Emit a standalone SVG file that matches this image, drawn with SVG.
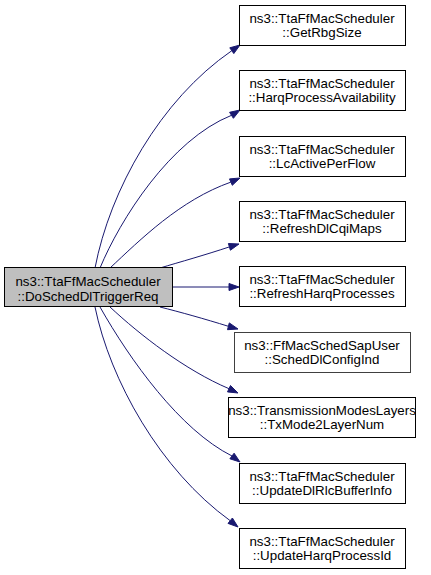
<svg xmlns="http://www.w3.org/2000/svg" width="431" height="575" viewBox="0 0 431 575">
<style>
.n rect{fill:#fff;stroke:#000;stroke-width:1}
.g rect{fill:#bfbfbf}
.x rect{stroke:#404040}
text{font-family:"Liberation Sans",Arial,sans-serif;font-size:13.33px;text-anchor:middle;fill:#000}
.e path{fill:none;stroke:#191970;stroke-width:1}
.e polygon{fill:#191970;stroke:#191970;stroke-width:1}
</style>
<rect width="431" height="575" fill="#fff"/>
<g class="e" id="edges">
<path d="M95,268 C110,190 160,100 231.8,50.7"/><polygon points="240,45 233.8,53.6 229.8,47.8"/>
<path d="M100,268 C120,220 170,140 231.5,115.3"/><polygon points="240,110 233.4,118.3 229.6,112.3"/>
<path d="M110,268 C140,240 180,200 230.9,182.1"/><polygon points="240,178 232.3,185.3 229.5,178.9"/>
<path d="M160,268 C180,262 205,255 229.4,246.9"/><polygon points="239,244 230.4,250.2 228.4,243.5"/>
<path d="M172,287 L229,287"/><polygon points="239,287 229,283.5 229,290.5"/>
<path d="M160,307 C180,312 205,319 228.4,326.3"/><polygon points="238,329 227.5,329.7 229.3,322.9"/>
<path d="M110,307 C140,335 185,370 229,388.7"/><polygon points="238,393 227.5,391.9 230.5,385.5"/>
<path d="M100,307 C130,360 180,430 232,456"/><polygon points="240,462 229.9,458.8 234.1,453.2"/>
<path d="M95,307 C110,380 160,470 230.2,520.7"/><polygon points="238,527 228,523.4 232.4,518"/>
</g>
<g class="n g" id="node0"><rect x="4.5" y="267.5" width="168" height="39"/><text x="88" y="286">ns3::TtaFfMacScheduler</text><text x="88" y="301">::DoSchedDlTriggerReq</text></g>
<g class="n" id="node1"><rect x="239.5" y="5.5" width="166" height="40"/><text x="322" y="22.5">ns3::TtaFfMacScheduler</text><text x="322" y="37">::GetRbgSize</text></g>
<g class="n" id="node2"><rect x="239.5" y="70.5" width="166" height="40"/><text x="322" y="87.5">ns3::TtaFfMacScheduler</text><text x="322" y="102">::HarqProcessAvailability</text></g>
<g class="n" id="node3"><rect x="239.5" y="136.5" width="166" height="40"/><text x="322" y="153.5">ns3::TtaFfMacScheduler</text><text x="322" y="168">::LcActivePerFlow</text></g>
<g class="n" id="node4"><rect x="239.5" y="201.5" width="166" height="40"/><text x="322" y="218.5">ns3::TtaFfMacScheduler</text><text x="322" y="233">::RefreshDlCqiMaps</text></g>
<g class="n" id="node5"><rect x="239.5" y="266.5" width="166" height="40"/><text x="322" y="283.5">ns3::TtaFfMacScheduler</text><text x="322" y="298">::RefreshHarqProcesses</text></g>
<g class="n x" id="node6"><rect x="234.5" y="332.5" width="176" height="40"/><text x="322" y="349.5">ns3::FfMacSchedSapUser</text><text x="322" y="364">::SchedDlConfigInd</text></g>
<g class="n" id="node7"><rect x="228.5" y="397.5" width="187" height="40"/><text x="322" y="414.5">ns3::TransmissionModesLayers</text><text x="322" y="429">::TxMode2LayerNum</text></g>
<g class="n" id="node8"><rect x="239.5" y="463.5" width="166" height="40"/><text x="322" y="480.5">ns3::TtaFfMacScheduler</text><text x="322" y="495">::UpdateDlRlcBufferInfo</text></g>
<g class="n" id="node9"><rect x="239.5" y="528.5" width="166" height="40"/><text x="322" y="545.5">ns3::TtaFfMacScheduler</text><text x="322" y="560">::UpdateHarqProcessId</text></g>
</svg>
